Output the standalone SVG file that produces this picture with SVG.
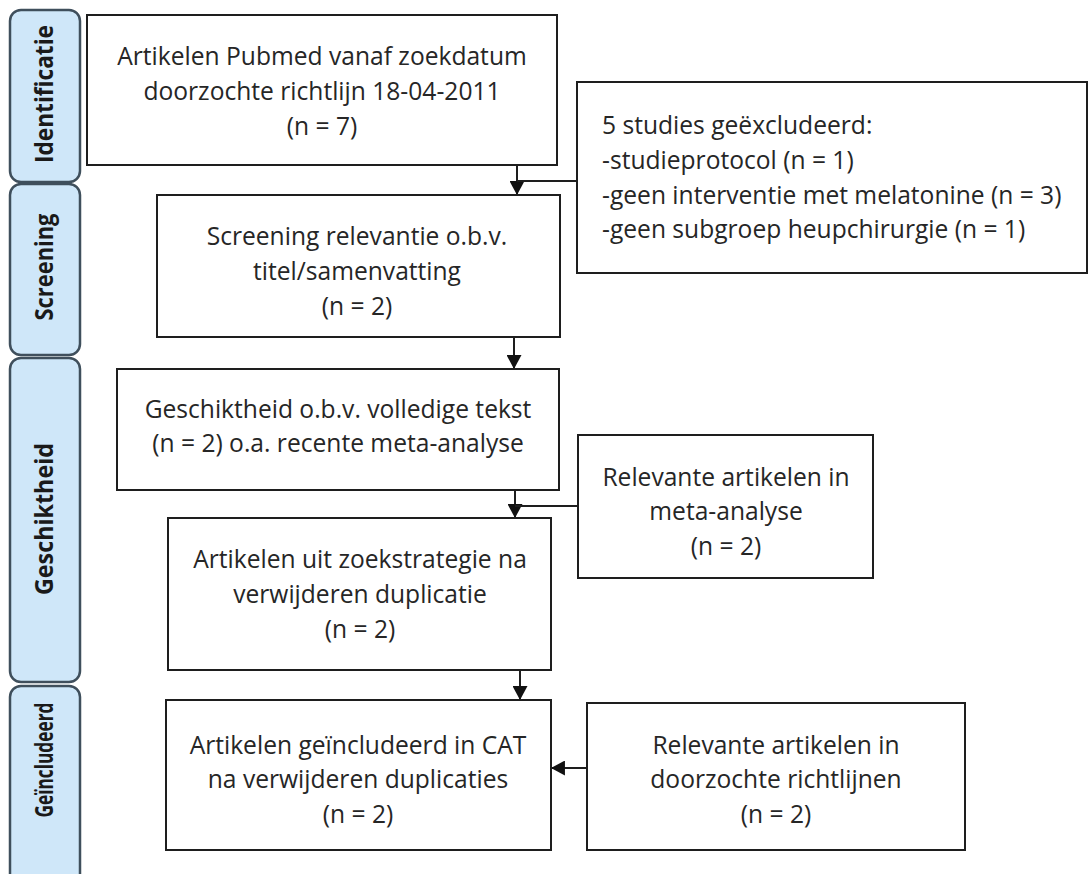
<svg xmlns="http://www.w3.org/2000/svg" width="1089" height="874" viewBox="0 0 1089 874">
<style>
.tab{fill:#cfe7f9;stroke:#3f4f5c;stroke-width:2.5}
.tabt{font-family:"Open Sans","Liberation Sans",sans-serif;font-weight:bold;font-size:25px;fill:#1a1a1a;text-anchor:middle}
.box{fill:#fff;stroke:#1e1e1e;stroke-width:2}
.t{font-family:"Open Sans","Liberation Sans",sans-serif;font-size:24.6px;fill:#262626}
.c{text-anchor:middle}
.ln{fill:none;stroke:#1e1e1e;stroke-width:2}
</style>
<defs>
<marker id="ah" markerUnits="userSpaceOnUse" markerWidth="15" markerHeight="15" viewBox="0 0 14 14" refX="13" refY="7" orient="auto">
<path d="M0,0 L13,7 L0,14 Z" fill="#111"/>
</marker>
</defs>
<rect width="1089" height="874" fill="#fff"/>
<g id="tab-identificatie">
<rect class="tab" x="10" y="10" width="70" height="172" rx="11"/>
<text class="tabt" transform="translate(53,94) rotate(-90)" textLength="138" lengthAdjust="spacingAndGlyphs">Identificatie</text>
</g>
<g id="tab-screening">
<rect class="tab" x="10" y="184" width="70" height="171" rx="11"/>
<text class="tabt" transform="translate(53,267) rotate(-90)" textLength="107" lengthAdjust="spacingAndGlyphs">Screening</text>
</g>
<g id="tab-geschiktheid">
<rect class="tab" x="10" y="358" width="70" height="324" rx="11"/>
<text class="tabt" transform="translate(53,519) rotate(-90)" textLength="152" lengthAdjust="spacingAndGlyphs">Geschiktheid</text>
</g>
<g id="tab-geincludeerd">
<rect class="tab" x="10" y="686" width="70" height="220" rx="11"/>
<text class="tabt" transform="translate(53,760) rotate(-90)" textLength="115" lengthAdjust="spacingAndGlyphs">Geïncludeerd</text>
</g>
<g id="connectors">
<line class="ln" x1="517" y1="165" x2="517" y2="195" marker-end="url(#ah)"/>
<line class="ln" x1="517" y1="181" x2="577" y2="181"/>
<line class="ln" x1="514" y1="337" x2="514" y2="369" marker-end="url(#ah)"/>
<line class="ln" x1="515" y1="490" x2="515" y2="518" marker-end="url(#ah)"/>
<line class="ln" x1="515" y1="506" x2="578" y2="506"/>
<line class="ln" x1="520" y1="670" x2="520" y2="700" marker-end="url(#ah)"/>
<line class="ln" x1="587" y1="768" x2="551" y2="768" marker-end="url(#ah)"/>
</g>
<g id="n-pubmed">
<rect class="box" x="87" y="15" width="470" height="150"/>
<text class="t c" x="322" y="65">Artikelen Pubmed vanaf zoekdatum</text>
<text class="t c" x="322" y="100">doorzochte richtlijn 18-04-2011</text>
<text class="t c" x="322" y="135">(n = 7)</text>
</g>
<g id="n-excluded">
<rect class="box" x="577" y="82" width="510" height="191"/>
<text class="t" x="602" y="134">5 studies geëxcludeerd:</text>
<text class="t" x="602" y="169">-studieprotocol (n = 1)</text>
<text class="t" x="602" y="204">-geen interventie met melatonine (n = 3)</text>
<text class="t" x="602" y="238">-geen subgroep heupchirurgie (n = 1)</text>
</g>
<g id="n-screening">
<rect class="box" x="157" y="195" width="403" height="142"/>
<text class="t c" x="357" y="245">Screening relevantie o.b.v.</text>
<text class="t c" x="357" y="280">titel/samenvatting</text>
<text class="t c" x="357" y="315">(n = 2)</text>
</g>
<g id="n-geschiktheid">
<rect class="box" x="117" y="369" width="442" height="121"/>
<text class="t c" x="338" y="418">Geschiktheid o.b.v. volledige tekst</text>
<text class="t c" x="338" y="452">(n = 2) o.a. recente meta-analyse</text>
</g>
<g id="n-meta">
<rect class="box" x="578" y="435" width="295" height="143"/>
<text class="t c" x="726" y="486">Relevante artikelen in</text>
<text class="t c" x="726" y="520">meta-analyse</text>
<text class="t c" x="726" y="555">(n = 2)</text>
</g>
<g id="n-zoekstrategie">
<rect class="box" x="168" y="518" width="383" height="152"/>
<text class="t c" x="360" y="568">Artikelen uit zoekstrategie na</text>
<text class="t c" x="360" y="603">verwijderen duplicatie</text>
<text class="t c" x="360" y="638">(n = 2)</text>
</g>
<g id="n-included">
<rect class="box" x="166" y="700" width="385" height="150"/>
<text class="t c" x="358" y="754">Artikelen geïncludeerd in CAT</text>
<text class="t c" x="358" y="788">na verwijderen duplicaties</text>
<text class="t c" x="358" y="823">(n = 2)</text>
</g>
<g id="n-richtlijnen">
<rect class="box" x="587" y="703" width="378" height="147"/>
<text class="t c" x="776" y="754">Relevante artikelen in</text>
<text class="t c" x="776" y="788">doorzochte richtlijnen</text>
<text class="t c" x="776" y="823">(n = 2)</text>
</g>
</svg>
